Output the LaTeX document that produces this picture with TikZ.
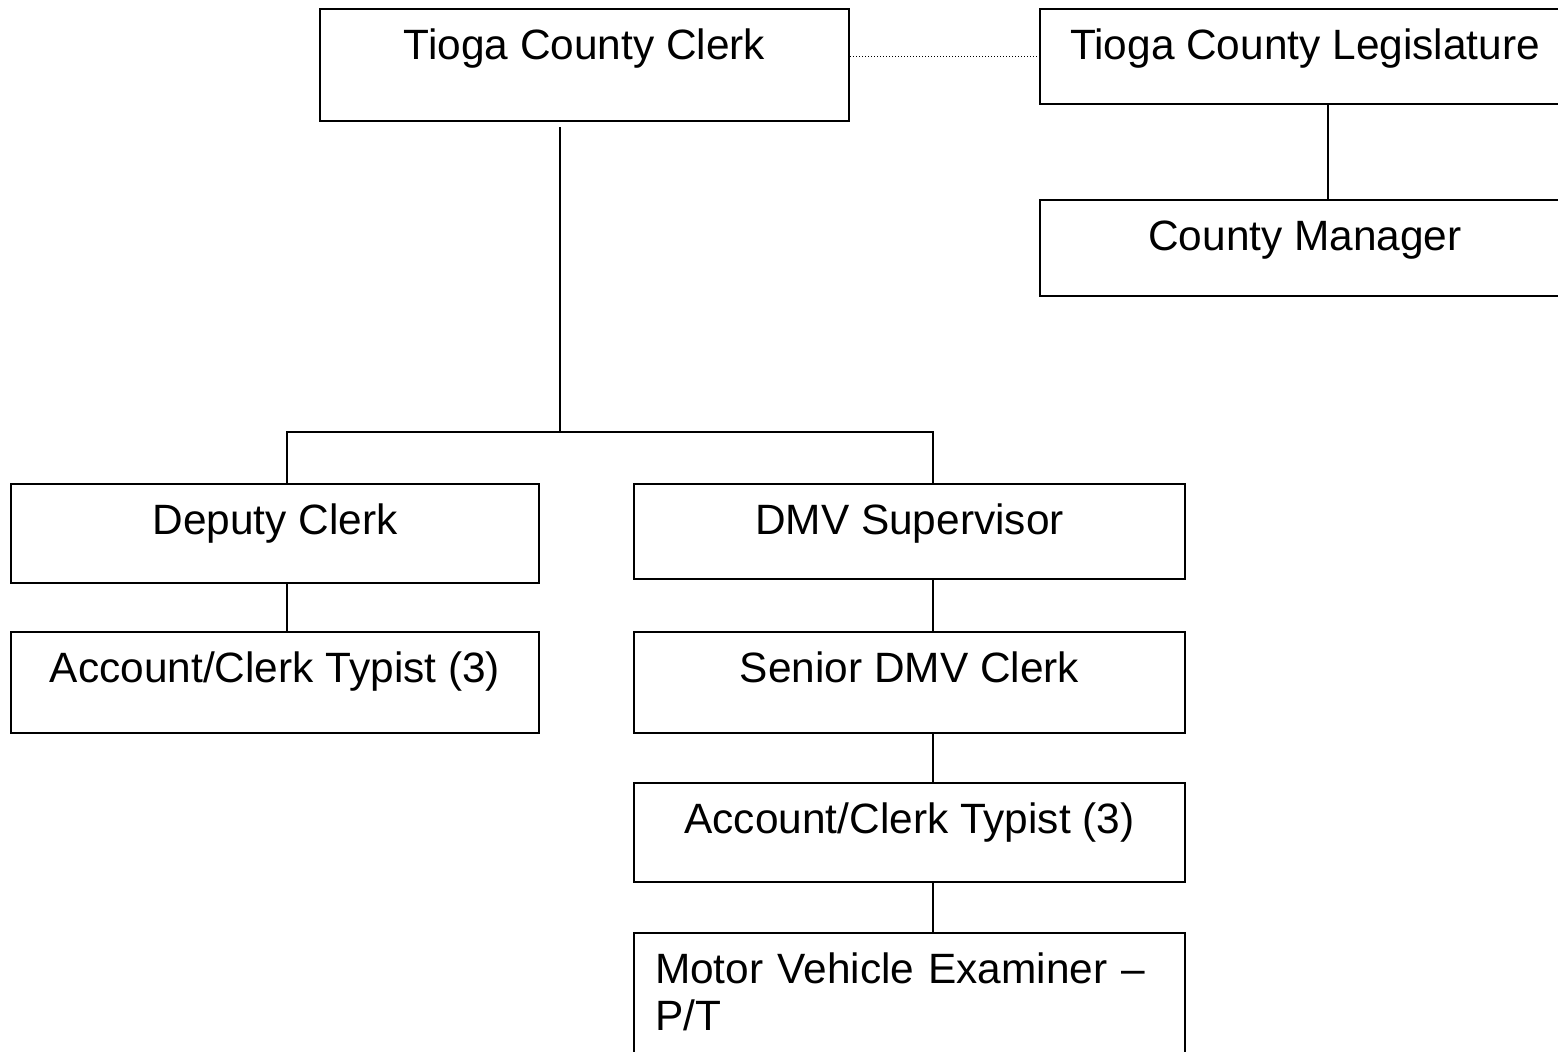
\documentclass[tikz,border=0pt]{standalone}
\usepackage{fontspec}
\setmainfont{Liberation Sans}
\usetikzlibrary{positioning}

\tikzset{
	box/.style	= {draw, line width=1pt, anchor=north, inner sep=0pt,
			   text height=25pt, text depth=#1},
	wide/.style	= {minimum width=275.5pt},
	narrow/.style	= {minimum width=264.5pt},
	link/.style	= {line width=0.8pt},
	dots/.style	= {line width=0.8pt, dash pattern=on 0.7pt off 0.8pt}
}

\begin{document}
\begin{tikzpicture}[x=0.5pt, y=-0.5pt, font=\fontsize{21.2}{23.5}\selectfont]
	\useasboundingbox (0,0) rectangle (1558,1051);

	\node	(Clerk)		[box=31pt, narrow]		at (584.5,8)	{Tioga County Clerk};
	\node	(Legis)		[box=22.5pt, minimum width=265pt]	at (1305,8)	{Tioga County Legislature};
	\node	(Manager)	[box=23pt, minimum width=265pt]	at (1305,199)	{County Manager};
	\node	(Deputy)	[box=24.5pt, minimum width=264pt]	at (275,483)	{Deputy Clerk};
	\node	(Typists1)	[box=25.5pt, minimum width=264pt]	at (275,631)	{Account/Clerk Typist (3)};
	\node	(DMV)		[box=22.5pt, wide]		at (909.5,483)	{DMV Supervisor};
	\node	(Senior)	[box=25.5pt, wide]		at (909.5,631)	{Senior DMV Clerk};
	\node	(Typists2)	[box=24.5pt, wide]		at (909.5,782)	{Account/Clerk Typist (3)};
	\node	(Examiner)	[box=46.5pt, inner xsep=10.5pt, text width=254.5pt, align=left]
						at (909.5,932)	{Motor Vehicle Examiner --\\P/T};

	\coordinate	(ClerkLine)	at (560,127);
	\coordinate	(bus)		at (560,432);

	% reporting lines
	\draw [dots]	(Legis.west -| Clerk.east) -- (Legis.west);
	\draw [link]	(Legis.south -| 1328,0) -- (Manager.north -| 1328,0);
	\draw [link]	(ClerkLine) -- (bus);
	\draw [link]	(Deputy.north -| 287,0) |- (bus) -| (DMV.north -| 933,0);
	\draw [link]	(Deputy.south -| 287,0) -- (Typists1.north -| 287,0);
	\draw [link]	(DMV.south -| 933,0) -- (Senior.north -| 933,0);
	\draw [link]	(Senior.south -| 933,0) -- (Typists2.north -| 933,0);
	\draw [link]	(Typists2.south -| 933,0) -- (Examiner.north -| 933,0);
\end{tikzpicture}
\end{document}
